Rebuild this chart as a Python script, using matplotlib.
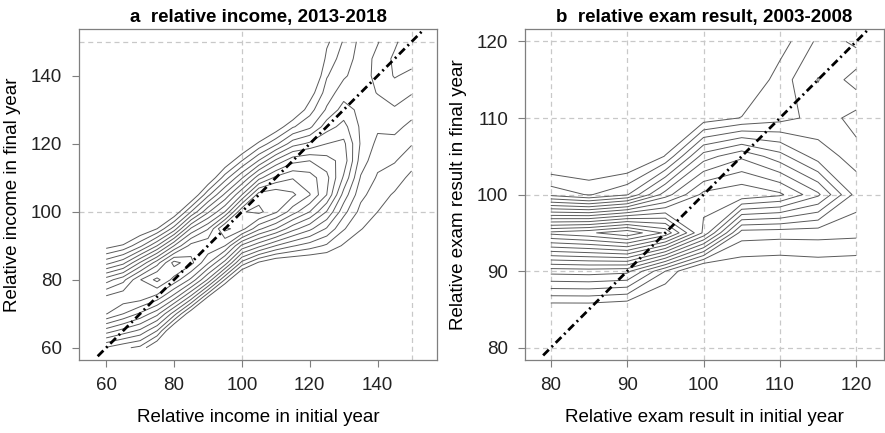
import numpy as np
import matplotlib
matplotlib.use("Agg")
import matplotlib.pyplot as plt

plt.rcParams['font.family'] = ['Liberation Sans', 'DejaVu Sans']

# ::: Panel a : where the contour levels cross each column :::
inc_x     = [60, 65, 70, 75, 80, 85, 90, 95, 100, 105, 110, 115, 120, 125, 130, 135, 140, 145, 150]
inc_low1  = [57.4, 58.2, 58.8, 62, 67, 71, 75, 79, 83, 85.2, 86.3, 86.8, 87.3, 88, 90.6, 94.6, 100, 106, 112]       # level 1, below ridge
inc_low8  = [67.0, 68.5, 70.3, 72.5, 75.5, 78.5, 82.2, 86.5, 91.5, 93, 95, 97.5, 100, 105,
             np.nan, np.nan, np.nan, np.nan, np.nan]                                                               # level 8, below ridge
inc_plo   = [70.5, 72.5, 75.5, 79, 83, 85.5, 89, 94, 95.5, 100, 101, 103, 105, 108, 113, 118, 138, 141, 148]       # ridge top starts
inc_phi   = [74.5, 77, 80, 81.5, 86, 88, 92, 96, 101, 104, 105, 107, 108, 112, 118, 122, 146, 146, 150]            # ridge top ends
inc_peak  = [10.4, 10.7, 10.95, 12.3, 12.4, 11.6, 10.8, 12.3, 11.9, 12.3, 11.8, 11.2, 10.05, 8.3, 6.6, 3.9, 4.3, 5.2, 5.8]
inc_top8  = [79.4, 81, 84, 87, 90, 94, 96.5, 100, 105, 109.5, 112.5, 114.5, 115, 113,
             np.nan, np.nan, np.nan, np.nan, np.nan]                                                               # level 8, above ridge
inc_top3  = [85.8, 87, 89.5, 92, 95.5, 100, 104.5, 109, 113, 116.5, 119.5, 122.5, 124, 130.5, 138, 164, 160, 168, 170]
inc_top1  = [89.2, 90.3, 93, 95, 98.5, 103, 108, 113, 117, 120.5, 123.5, 127, 132.5, 148, 165, 190, 180, 190, 190]
inc_y     = np.arange(60, 151, 5)
inc_levels = np.arange(1, 14)

# ::: Panel b : density grid (rows = final year 80..120, cols = initial year 80..120) :::
exam_x = [80, 85, 90, 95, 100, 105, 110, 115, 120]
exam_y = [80, 85, 90, 95, 100, 105, 110, 115, 120]
exam_z = [
    [-3.0, -3.0, -3.0, -3.0, -3.0, -3.0, -3.0, -3.0, -3.0],   # 80
    [ 0.1,  0.1, -0.2, -1.0, -3.0, -2.0, -2.0, -2.0, -2.0],   # 85
    [ 5.4,  5.5,  5.3,  2.0, -1.0,  0.1,  0.0,  0.2,  0.1],   # 90
    [14.3, 14.8, 15.8, 13.8,  8.8,  2.5,  2.4,  2.4,  2.3],   # 95
    [ 2.7,  1.9,  2.9,  6.5,  9.3,  9.8,  9.2,  7.2,  3.6],   # 100
    [-0.5, -0.5, -0.5, 1.05,  5.5,  6.8,  5.4,  3.5,  2.6],   # 105
    [-1.0, -1.0, -0.5, -0.5, 0.42, 1.05, 1.62, 2.35,  3.4],   # 110
    [-1.0, -1.0, -1.0, -1.0, -0.5, -0.3,  1.5, 3.05,  1.5],   # 115
    [-1.0, -1.0, -1.0, -1.0, -1.0, -0.5,  0.5,  2.2,  3.3],   # 120
]
exam_levels = np.arange(1, 16)


# build the income grid column by column from the crossing heights
def column(j):
    ky = [inc_low1[j], inc_low8[j], inc_plo[j], inc_phi[j], inc_top8[j], inc_top3[j], inc_top1[j]]
    kz = [1, 8, inc_peak[j], inc_peak[j], 8, 3, 1]
    pts = [(a, b) for a, b in zip(ky, kz) if not np.isnan(a)]
    ky = np.array([p[0] for p in pts])
    kz = np.array([p[1] for p in pts])
    z = np.interp(inc_y, ky, kz)
    s0 = (kz[1] - kz[0]) / (ky[1] - ky[0])
    s1 = (kz[-1] - kz[-2]) / (ky[-1] - ky[-2])
    z = np.where(inc_y < ky[0], kz[0] + s0 * (inc_y - ky[0]), z)
    z = np.where(inc_y > ky[-1], kz[-1] + s1 * (inc_y - ky[-1]), z)
    return np.clip(z, -2, None)


za = np.column_stack([column(j) for j in range(len(inc_x))])

grey = '#7f7f7f'
grid_col = '#c8c8c8'
line_col = '#5a5a5a'

fig = plt.figure(figsize=(8.85, 4.33), dpi=100)
ax1 = fig.add_axes([0.0893, 0.1686, 0.4045, 0.764])
ax2 = fig.add_axes([0.593, 0.1686, 0.4056, 0.764])


def style(ax, ticks, xlim, ylim, grid_at):
    ax.set_xlim(*xlim)
    ax.set_ylim(*ylim)
    for g in grid_at:
        ax.axvline(g, color=grid_col, lw=0.9, ls=(0, (4, 3)), zorder=0)
        ax.axhline(g, color=grid_col, lw=0.9, ls=(0, (4, 3)), zorder=0)
    ax.set_xticks(ticks)
    ax.set_yticks(ticks)
    ax.tick_params(direction='out', length=5, width=0.8, color=grey,
                   labelsize=13.5, labelcolor='#222222', pad=7)
    for s in ax.spines.values():
        s.set_color(grey)
        s.set_linewidth(0.9)


# ::: a  relative income :::
style(ax1, [60, 80, 100, 120, 140], (52.0, 157.5), (56.4, 153.7), [100, 150])
ax1.contour(inc_x, inc_y, za, levels=inc_levels, colors=line_col, linewidths=0.7)
ax1.plot([57.5, 153.5], [57.5, 153.5], color='black', lw=2.0, dashes=(2.9, 1.4, 0.7, 1.4))
ax1.set_title('a  relative income, 2013-2018', fontsize=13.5, fontweight='bold', pad=5)
ax1.set_xlabel('Relative income in initial year', fontsize=13.5, labelpad=11)
ax1.set_ylabel('Relative income in final year', fontsize=13.5, labelpad=7)

# ::: b  relative exam result :::
style(ax2, [80, 90, 100, 110, 120], (76.6, 123.6), (78.4, 121.6), [80, 90, 100, 110, 120])
ax2.contour(exam_x, exam_y, np.array(exam_z), levels=exam_levels, colors=line_col, linewidths=0.7)
ax2.plot([79, 121.7], [79, 121.7], color='black', lw=2.0, dashes=(2.9, 1.4, 0.7, 1.4))
ax2.set_title('b  relative exam result, 2003-2008', fontsize=13.5, fontweight='bold', pad=5)
ax2.set_xlabel('Relative exam result in initial year', fontsize=13.5, labelpad=11)
ax2.set_ylabel('Relative exam result in final year', fontsize=13.5, labelpad=7)

fig.savefig('out.png', dpi=100)
